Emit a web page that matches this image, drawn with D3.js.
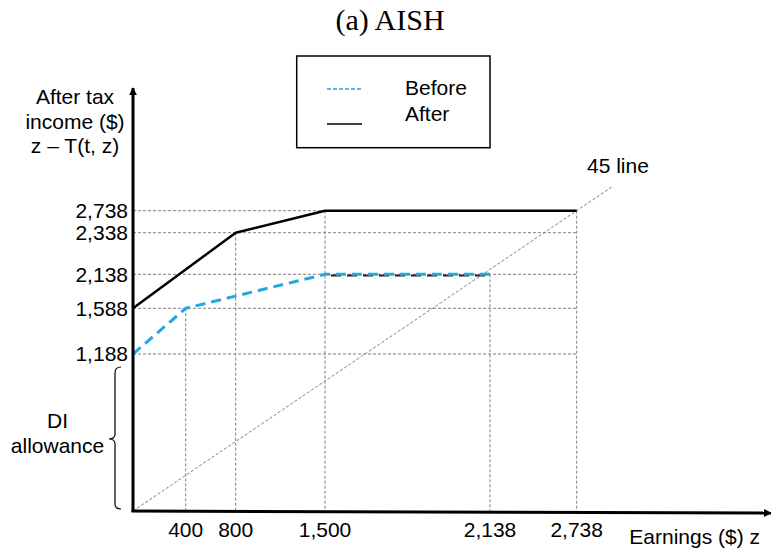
<!DOCTYPE html>
<html>
<head>
<meta charset="utf-8">
<script src="https://cdn.jsdelivr.net/npm/d3@7"></script>
<style>
  body { margin: 0; background: #fff; }
  svg { display: block; }
  text { font-family: "Liberation Sans", Arial, sans-serif; fill: #000; }
</style>
</head>
<body>
<div id="viz"></div>
<script>
const width = 771;
const height = 551;

// tick values on each axis (schematic, not to scale)
const xTicks = [400, 800, 1500, 2138, 2738];
const xTickLabels = ['400', '800', '1,500', '2,138', '2,738'];
const yTicks = [1188, 1588, 2138, 2338, 2738];
const yTickLabels = ['1,188', '1,588', '2,138', '2,338', '2,738'];
// where each vertical guide line stops (income level)
const xGuideTop = [1588, 2338, 2738, 2138, 2738];

// budget constraints
const beforeEarnings = [0, 400, 1500, 2138];
const beforeIncome = [1188, 1588, 2138, 2138];
const afterEarnings = [0, 800, 1500, 2738];
const afterIncome = [1588, 2338, 2738, 2738];

const seriesNames = ['Before', 'After'];
const braceRange = [0, 1188];

const blue = '#22a7e0';
const grid = '#7f7f7f';

// the figure is drawn schematically, so both scales are piecewise linear
const scaleX = d3.scaleLinear()
  .domain([0, 400, 800, 1500, 2138, 2738])
  .range([133, 185.7, 235.7, 325, 490, 576.7]);

const scaleY = d3.scaleLinear()
  .domain([0, 1188, 1588, 2138, 2338, 2738])
  .range([511, 354, 308.3, 274.3, 232.7, 210.7]);

const svg = d3.select('#viz')
  .append('svg')
    .attr('width', width)
    .attr('height', height)
    .attr('viewBox', `0 0 ${width} ${height}`);

const defs = svg.append('defs');
defs.append('marker')
    .attr('id', 'arrow')
    .attr('viewBox', '0 0 10 10')
    .attr('refX', 9)
    .attr('refY', 5)
    .attr('markerWidth', 3.2)
    .attr('markerHeight', 2.6)
    .attr('orient', 'auto')
  .append('path')
    .attr('d', 'M0,0 L10,5 L0,10 Z')
    .attr('fill', '#000');

// title
svg.append('text')
  .attr('x', 390)
  .attr('y', 30)
  .attr('text-anchor', 'middle')
  .style('font-family', '"Liberation Serif", "Times New Roman", serif')
  .style('font-size', '30px')
  .text('(a) AISH');

// dashed guide lines
const guides = svg.append('g')
  .attr('stroke', grid)
  .attr('stroke-width', 1)
  .attr('stroke-dasharray', '3,2')
  .attr('fill', 'none');

guides.selectAll('.h-guide')
  .data(yTicks)
  .join('line')
    .attr('class', 'h-guide')
    .attr('x1', scaleX(0))
    .attr('x2', scaleX(2738))
    .attr('y1', d => scaleY(d))
    .attr('y2', d => scaleY(d));

guides.selectAll('.v-guide')
  .data(xTicks)
  .join('line')
    .attr('class', 'v-guide')
    .attr('x1', d => scaleX(d))
    .attr('x2', d => scaleX(d))
    .attr('y1', (d, i) => scaleY(xGuideTop[i]))
    .attr('y2', scaleY(0));

// 45 degree line, running a little past (2738, 2738)
const x0 = scaleX(0), y0 = scaleY(0);
const x1 = scaleX(2738), y1 = scaleY(2738);
const ext = 1.08;
guides.append('line')
  .attr('x1', x0)
  .attr('y1', y0)
  .attr('x2', x0 + (x1 - x0) * ext)
  .attr('y2', y0 + (y1 - y0) * ext);

svg.append('text')
  .attr('x', 587)
  .attr('y', 173)
  .style('font-size', '21px')
  .text('45 line');

// budget lines
const line = d3.line()
  .x(d => scaleX(d[0]))
  .y(d => scaleY(d[1]));

const beforePts = beforeEarnings.map((e, i) => [e, beforeIncome[i]]);
const afterPts = afterEarnings.map((e, i) => [e, afterIncome[i]]);

svg.append('path')
  .datum(afterPts)
  .attr('d', line)
  .attr('fill', 'none')
  .attr('stroke', '#000')
  .attr('stroke-width', 2.5)
  .attr('stroke-linejoin', 'round');

// dark shadow under the flat part of the before line
svg.append('path')
  .datum(beforePts.slice(2))
  .attr('d', line)
  .attr('transform', 'translate(0,1.3)')
  .attr('fill', 'none')
  .attr('stroke', '#222')
  .attr('stroke-width', 2)
  .attr('stroke-dasharray', '10,6')
  .attr('stroke-dashoffset', -6);

svg.append('path')
  .datum(beforePts)
  .attr('d', line)
  .attr('fill', 'none')
  .attr('stroke', blue)
  .attr('stroke-width', 3)
  .attr('stroke-dasharray', '10,6');

// axes
svg.append('line')
  .attr('x1', scaleX(0))
  .attr('y1', scaleY(0) + 1)
  .attr('x2', scaleX(0))
  .attr('y2', 88)
  .attr('stroke', '#000')
  .attr('stroke-width', 3)
  .attr('marker-end', 'url(#arrow)');

svg.append('line')
  .attr('x1', scaleX(0) - 1.5)
  .attr('y1', scaleY(0))
  .attr('x2', 771)
  .attr('y2', scaleY(0) + 2)
  .attr('stroke', '#000')
  .attr('stroke-width', 3)
  .attr('marker-end', 'url(#arrow)');

// tick labels
svg.selectAll('.y-label')
  .data(yTicks)
  .join('text')
    .attr('class', 'y-label')
    .attr('x', 128)
    .attr('y', d => scaleY(d))
    .attr('dy', '0.35em')
    .attr('text-anchor', 'end')
    .style('font-size', '21px')
    .text((d, i) => yTickLabels[i]);

svg.selectAll('.x-label')
  .data(xTicks)
  .join('text')
    .attr('class', 'x-label')
    .attr('x', d => scaleX(d))
    .attr('y', 537)
    .attr('text-anchor', 'middle')
    .style('font-size', '21px')
    .text((d, i) => xTickLabels[i]);

// axis titles
svg.append('text')
  .attr('x', 760)
  .attr('y', 544)
  .attr('text-anchor', 'end')
  .style('font-size', '21px')
  .text('Earnings ($) z');

const yTitle = svg.append('text')
  .attr('text-anchor', 'middle')
  .style('font-size', '21px');
['After tax', 'income ($)', 'z \u2013 T(t, z)'].forEach((t, i) => {
  yTitle.append('tspan')
    .attr('x', 75)
    .attr('y', 104 + i * 24.5)
    .text(t);
});

// brace for the DI allowance
const bTop = scaleY(braceRange[1]) + 13;
const bBot = scaleY(braceRange[0]) - 2;
const bMid = (bTop + bBot) / 2 + 1;
const bx = 115;
svg.append('path')
  .attr('d', `M${bx + 6},${bTop} Q${bx},${bTop} ${bx},${bTop + 6} L${bx},${bMid - 5}
    Q${bx},${bMid} ${bx - 6},${bMid} Q${bx},${bMid} ${bx},${bMid + 5}
    L${bx},${bBot - 5} Q${bx},${bBot} ${bx + 6},${bBot}`)
  .attr('fill', 'none')
  .attr('stroke', '#000')
  .attr('stroke-width', 1.2);

const brText = svg.append('text')
  .attr('text-anchor', 'middle')
  .style('font-size', '21px');
['DI', 'allowance'].forEach((t, i) => {
  brText.append('tspan')
    .attr('x', 57.5)
    .attr('y', 428 + i * 25)
    .text(t);
});

// legend
const legend = svg.append('g');
legend.append('rect')
  .attr('x', 296.7)
  .attr('y', 56)
  .attr('width', 193.3)
  .attr('height', 91.7)
  .attr('fill', 'none')
  .attr('stroke', '#000')
  .attr('stroke-width', 1.5);

legend.selectAll('.sample')
  .data(seriesNames)
  .join('line')
    .attr('class', 'sample')
    .attr('x1', 327)
    .attr('x2', 362)
    .attr('y1', (d, i) => 89 + i * 35)
    .attr('y2', (d, i) => 89 + i * 35)
    .attr('stroke', (d, i) => i === 0 ? blue : '#000')
    .attr('stroke-width', (d, i) => i === 0 ? 1.5 : 1.3)
    .attr('stroke-dasharray', (d, i) => i === 0 ? '4,2' : null);

legend.selectAll('.legend-label')
  .data(seriesNames)
  .join('text')
    .attr('class', 'legend-label')
    .attr('x', 405)
    .attr('y', (d, i) => 95 + i * 26)
    .style('font-size', '21px')
    .text(d => d);
</script>
</body>
</html>
